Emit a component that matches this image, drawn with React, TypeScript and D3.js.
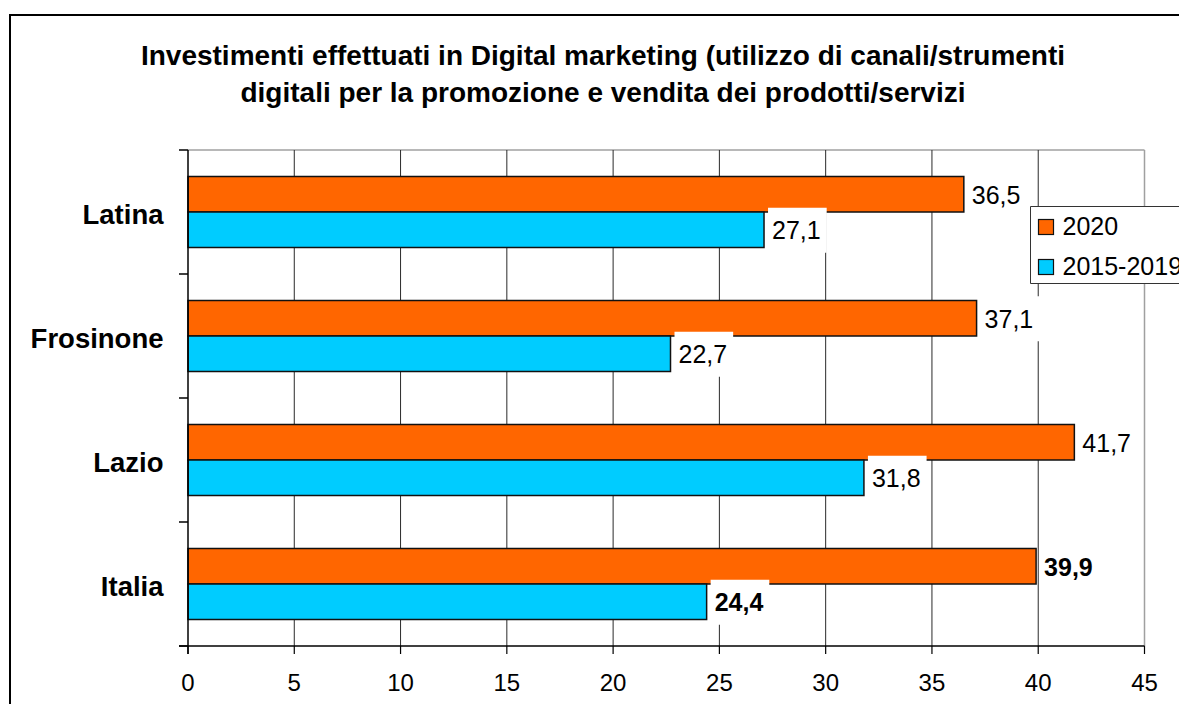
import React from "react";
import * as d3 from "d3";

const titleLines = [
  "Investimenti effettuati in Digital marketing (utilizzo di canali/strumenti",
  "digitali per la promozione e vendita dei prodotti/servizi",
];
const categories = ["Latina", "Frosinone", "Lazio", "Italia"];
const seriesNames = ["2020", "2015-2019"];
const values2020 = [36.5, 37.1, 41.7, 39.9];
const values2015_2019 = [27.1, 22.7, 31.8, 24.4];
const xTicks = [0, 5, 10, 15, 20, 25, 30, 35, 40, 45];
const boldCategories = ["Italia"];
const seriesColors = ["#FF6600", "#00CCFF"];

const W = 1179;
const H = 704;
const FONT = "'Liberation Sans', Arial, Helvetica, sans-serif";

const itLocale = d3.formatLocale({
  decimal: ",",
  thousands: ".",
  grouping: [3],
  currency: ["€", ""],
});
const fmt = itLocale.format(".1f");

export default function App() {
  const left = 188;
  const right = 1144.5;
  const top = 150;
  const bottom = 646;

  const x = d3.scaleLinear().domain([0, 45]).range([left, right]);
  const y = d3
    .scaleBand<string>()
    .domain(categories)
    .range([top, bottom])
    .paddingInner(0.4274)
    .paddingOuter(0.2137);
  const ySub = d3
    .scaleBand<string>()
    .domain(seriesNames)
    .range([0, y.bandwidth()]);

  const seriesValues = [values2020, values2015_2019];
  const step = y.step();
  const boundaries = d3.range(categories.length + 1).map((i) => top + i * step);

  const bars: any[] = [];
  categories.forEach((c, ci) => {
    seriesNames.forEach((s, si) => {
      bars.push({
        c,
        s,
        si,
        v: seriesValues[si][ci],
        y0: (y(c) as number) + (ySub(s) as number),
        h: ySub.bandwidth(),
        bold: boldCategories.includes(c),
      });
    });
  });

  const valFs = 25;
  const boxW = 1.946 * valFs + 10;

  return (
    <div
      style={{
        position: "fixed",
        left: 0,
        top: 0,
        width: W,
        height: H,
        overflow: "hidden",
        background: "#fff",
      }}
    >
      <svg
        width={W}
        height={H}
        style={{ display: "block", overflow: "hidden" }}
        fontFamily={FONT}
      >
        <rect x={0} y={0} width={W} height={H} fill="#fff" />
        {/* chart border: only left and top edges fall inside the frame */}
        <path d={`M10,${H + 10} L10,15 L${W + 10},15`} fill="none" stroke="#000" strokeWidth={2} />

        {/* title */}
        {titleLines.map((t, i) => (
          <text
            key={i}
            x={603}
            y={64.5 + i * 37}
            textAnchor="middle"
            fontSize={28}
            fontWeight="bold"
            fill="#000"
          >
            {t}
          </text>
        ))}

        {/* plot border (top/right gray) */}
        <line x1={left} x2={right} y1={top} y2={top} stroke="#a0a0a0" strokeWidth={1.5} />
        <line x1={right} x2={right} y1={top} y2={bottom} stroke="#a0a0a0" strokeWidth={1.5} />

        {/* gridlines */}
        {xTicks.slice(1, -1).map((t) => (
          <line key={t} x1={x(t)} x2={x(t)} y1={top} y2={bottom} stroke="#2a2a2a" strokeWidth={1} />
        ))}

        {/* bars */}
        {bars.map((b, i) => (
          <rect
            key={i}
            x={x(0)}
            y={b.y0}
            width={x(b.v) - x(0)}
            height={b.h}
            fill={seriesColors[b.si]}
            stroke="#111"
            strokeWidth={1.5}
          />
        ))}

        {/* value labels */}
        {bars.map((b, i) => {
          const cy = b.y0 + b.h / 2;
          return (
            <g key={i}>
              <rect x={x(b.v) + 4} y={cy - 22} width={boxW} height={45} fill="#fff" />
              <text
                x={x(b.v) + 8}
                y={cy + 9.3}
                fontSize={valFs}
                fontWeight={b.bold ? "bold" : "normal"}
                fill="#000"
              >
                {fmt(b.v)}
              </text>
            </g>
          );
        })}

        {/* axes */}
        <line x1={left} x2={left} y1={top} y2={bottom + 8} stroke="#000" strokeWidth={1.5} />
        <line x1={left - 9} x2={right} y1={bottom} y2={bottom} stroke="#000" strokeWidth={1.5} />
        {boundaries.map((b, i) => (
          <line key={i} x1={left - 9} x2={left} y1={b} y2={b} stroke="#000" strokeWidth={1.5} />
        ))}
        {xTicks.map((t) => (
          <g key={t}>
            <line x1={x(t)} x2={x(t)} y1={bottom} y2={bottom + 8} stroke="#000" strokeWidth={1.2} />
            <text x={x(t)} y={690.5} textAnchor="middle" fontSize={24} fill="#000">
              {t}
            </text>
          </g>
        ))}

        {/* category labels */}
        {categories.map((c) => (
          <text
            key={c}
            x={163.5}
            y={(y(c) as number) + y.bandwidth() / 2 + 12}
            textAnchor="end"
            fontSize={27.5}
            fontWeight="bold"
            fill="#000"
          >
            {c}
          </text>
        ))}

        {/* legend (box runs past the right edge of the frame) */}
        <rect x={1030.5} y={206} width={W} height={78} fill="#fff" />
        <path
          d={`M${W + 10},206.5 L1030.5,206.5 L1030.5,283.5 L${W + 10},283.5`}
          fill="none"
          stroke="#333"
          strokeWidth={1}
        />
        {seriesNames.map((s, i) => (
          <g key={s}>
            <rect
              x={1038.5}
              y={219.5 + i * 40}
              width={15}
              height={15}
              fill={seriesColors[i]}
              stroke="#111"
              strokeWidth={1.2}
            />
            <text x={1062.5} y={235 + i * 40} fontSize={25} fill="#000">
              {s}
            </text>
          </g>
        ))}
      </svg>
    </div>
  );
}
